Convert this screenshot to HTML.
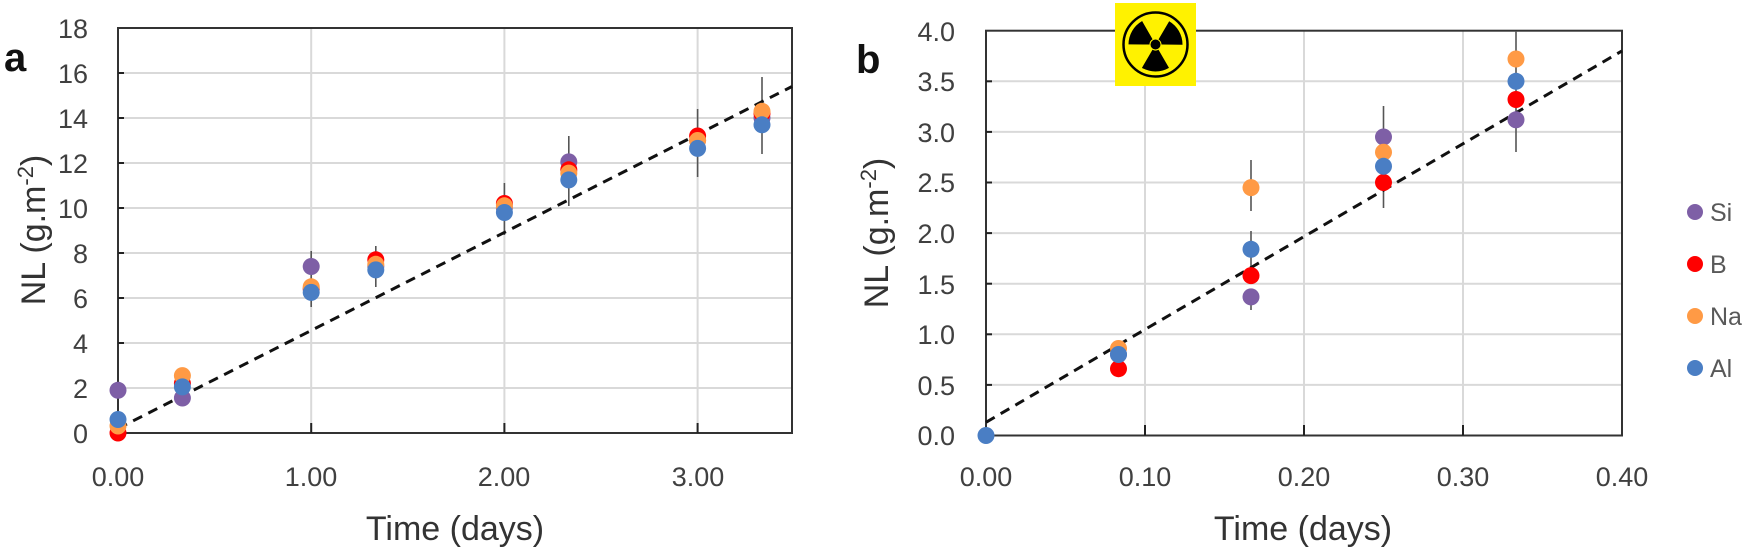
<!DOCTYPE html>
<html><head><meta charset="utf-8"><style>
html,body{margin:0;padding:0;background:#fff}
svg{display:block}
text{font-family:"Liberation Sans",sans-serif}
.t{font-size:27px;fill:#404040}
.ax{font-size:34px;fill:#333}
</style></head><body>
<svg width="1750" height="556" viewBox="0 0 1750 556" xmlns="http://www.w3.org/2000/svg">
<rect width="1750" height="556" fill="#fff"/>
<!-- Panel a grid -->
<g stroke="#d9d9d9" stroke-width="2">
<line x1="311.2" y1="28" x2="311.2" y2="433"/><line x1="504.4" y1="28" x2="504.4" y2="433"/><line x1="697.6" y1="28" x2="697.6" y2="433"/>
<line x1="118" y1="388" x2="792" y2="388"/><line x1="118" y1="343" x2="792" y2="343"/><line x1="118" y1="298" x2="792" y2="298"/><line x1="118" y1="253" x2="792" y2="253"/><line x1="118" y1="208" x2="792" y2="208"/><line x1="118" y1="163" x2="792" y2="163"/><line x1="118" y1="118" x2="792" y2="118"/><line x1="118" y1="73" x2="792" y2="73"/>
</g>
<rect x="118" y="28" width="674" height="405" fill="none" stroke="#333" stroke-width="2"/>
<g stroke="#222" stroke-width="2">
<line x1="118" y1="388" x2="124" y2="388"/><line x1="118" y1="343" x2="124" y2="343"/><line x1="118" y1="298" x2="124" y2="298"/><line x1="118" y1="253" x2="124" y2="253"/><line x1="118" y1="208" x2="124" y2="208"/><line x1="118" y1="163" x2="124" y2="163"/><line x1="118" y1="118" x2="124" y2="118"/><line x1="118" y1="73" x2="124" y2="73"/>
<line x1="311.2" y1="433" x2="311.2" y2="423"/><line x1="504.4" y1="433" x2="504.4" y2="423"/><line x1="697.6" y1="433" x2="697.6" y2="423"/>
</g>
<g class="t" text-anchor="end">
<text x="88" y="443">0</text><text x="88" y="398">2</text><text x="88" y="353">4</text><text x="88" y="308">6</text><text x="88" y="263">8</text><text x="88" y="218">10</text><text x="88" y="173">12</text><text x="88" y="128">14</text><text x="88" y="83">16</text><text x="88" y="38">18</text>
</g>
<g class="t" text-anchor="middle">
<text x="118" y="486">0.00</text><text x="311" y="486">1.00</text><text x="504" y="486">2.00</text><text x="698" y="486">3.00</text>
</g>
<text class="ax" x="455" y="540" text-anchor="middle">Time (days)</text>
<text class="ax" transform="translate(45,230) rotate(-90)" text-anchor="middle">NL (g.m<tspan dy="-12" font-size="22">-2</tspan><tspan dy="12">)</tspan></text>
<text x="4" y="71" font-size="40" font-weight="bold" fill="#111">a</text>
<!-- errors a -->
<g stroke="#555" stroke-width="1.6">
<line x1="311.2" y1="307" x2="311.2" y2="251"/><line x1="375.8" y1="287" x2="375.8" y2="246"/><line x1="504.4" y1="235" x2="504.4" y2="183"/><line x1="568.8" y1="206" x2="568.8" y2="136"/><line x1="697.6" y1="177" x2="697.6" y2="109"/><line x1="762" y1="154" x2="762" y2="77"/>
</g>
<line x1="118" y1="428.5" x2="792" y2="86.5" stroke="#111" stroke-width="3" stroke-dasharray="10 7"/>
<g>
<g fill="#7E5FA6"><circle cx="118" cy="390.3" r="8.5"/><circle cx="182.4" cy="398" r="8.5"/><circle cx="311.2" cy="266.5" r="8.5"/><circle cx="375.8" cy="266.5" r="8.5"/><circle cx="504.4" cy="208" r="8.5"/><circle cx="568.8" cy="161.9" r="8.5"/><circle cx="697.6" cy="140.5" r="8.5"/><circle cx="762" cy="118" r="8.5"/></g>
<g fill="#FF0000"><circle cx="118" cy="433" r="8.5"/><circle cx="182.4" cy="383.5" r="8.5"/><circle cx="311.2" cy="289" r="8.5"/><circle cx="375.8" cy="259.8" r="8.5"/><circle cx="504.4" cy="203.5" r="8.5"/><circle cx="568.8" cy="169.8" r="8.5"/><circle cx="697.6" cy="136" r="8.5"/><circle cx="762" cy="113.5" r="8.5"/></g>
<g fill="#FF9A45"><circle cx="118" cy="426" r="8.5"/><circle cx="182.4" cy="375.6" r="8.5"/><circle cx="311.2" cy="286.8" r="8.5"/><circle cx="375.8" cy="264.3" r="8.5"/><circle cx="504.4" cy="205.8" r="8.5"/><circle cx="568.8" cy="173.1" r="8.5"/><circle cx="697.6" cy="140.5" r="8.5"/><circle cx="762" cy="111.3" r="8.5"/></g>
<g fill="#4A7EC4"><circle cx="118" cy="419.5" r="8.5"/><circle cx="182.4" cy="386.9" r="8.5"/><circle cx="311.2" cy="292.4" r="8.5"/><circle cx="375.8" cy="269.9" r="8.5"/><circle cx="504.4" cy="212.5" r="8.5"/><circle cx="568.8" cy="179.9" r="8.5"/><circle cx="697.6" cy="148.4" r="8.5"/><circle cx="762" cy="124.8" r="8.5"/></g>
</g>

<!-- Panel b grid -->
<g stroke="#d9d9d9" stroke-width="2">
<line x1="1145" y1="30.7" x2="1145" y2="435.5"/><line x1="1304" y1="30.7" x2="1304" y2="435.5"/><line x1="1463" y1="30.7" x2="1463" y2="435.5"/>
<line x1="986" y1="384.9" x2="1622" y2="384.9"/><line x1="986" y1="334.3" x2="1622" y2="334.3"/><line x1="986" y1="283.7" x2="1622" y2="283.7"/><line x1="986" y1="233.1" x2="1622" y2="233.1"/><line x1="986" y1="182.5" x2="1622" y2="182.5"/><line x1="986" y1="131.9" x2="1622" y2="131.9"/><line x1="986" y1="81.3" x2="1622" y2="81.3"/>
</g>
<rect x="986" y="30.7" width="636" height="404.8" fill="none" stroke="#333" stroke-width="2"/>
<g stroke="#222" stroke-width="2">
<line x1="986" y1="384.9" x2="992" y2="384.9"/><line x1="986" y1="334.3" x2="992" y2="334.3"/><line x1="986" y1="283.7" x2="992" y2="283.7"/><line x1="986" y1="233.1" x2="992" y2="233.1"/><line x1="986" y1="182.5" x2="992" y2="182.5"/><line x1="986" y1="131.9" x2="992" y2="131.9"/><line x1="986" y1="81.3" x2="992" y2="81.3"/>
<line x1="1145" y1="435.5" x2="1145" y2="425"/><line x1="1304" y1="435.5" x2="1304" y2="425"/><line x1="1463" y1="435.5" x2="1463" y2="425"/>
</g>
<g class="t" text-anchor="end">
<text x="955" y="445">0.0</text><text x="955" y="395">0.5</text><text x="955" y="344">1.0</text><text x="955" y="294">1.5</text><text x="955" y="243">2.0</text><text x="955" y="192">2.5</text><text x="955" y="142">3.0</text><text x="955" y="91">3.5</text><text x="955" y="41">4.0</text>
</g>
<g class="t" text-anchor="middle">
<text x="986" y="486">0.00</text><text x="1145" y="486">0.10</text><text x="1304" y="486">0.20</text><text x="1463" y="486">0.30</text><text x="1622" y="486">0.40</text>
</g>
<text class="ax" x="1303" y="540" text-anchor="middle">Time (days)</text>
<text class="ax" transform="translate(888,233) rotate(-90)" text-anchor="middle">NL (g.m<tspan dy="-12" font-size="22">-2</tspan><tspan dy="12">)</tspan></text>
<text x="856" y="73" font-size="40" font-weight="bold" fill="#111">b</text>
<!-- radiation -->
<rect x="1115" y="3" width="81" height="83" fill="#FFF200"/>
<circle cx="1155.5" cy="44.5" r="32" fill="none" stroke="#000" stroke-width="2.5"/>
<circle cx="1155.5" cy="44.5" r="16.5" fill="none" stroke="#000" stroke-width="21" stroke-dasharray="17.28 17.28" transform="rotate(60 1155.5 44.5)"/>
<circle cx="1155.5" cy="44.5" r="5" fill="#000"/>
<!-- errors b -->
<g stroke="#555" stroke-width="1.6">
<line x1="1251" y1="211" x2="1251" y2="160"/><line x1="1251" y1="274" x2="1251" y2="231"/><line x1="1251" y1="310" x2="1251" y2="290"/>
<line x1="1383.5" y1="208" x2="1383.5" y2="106"/><line x1="1516" y1="152" x2="1516" y2="31"/>
</g>
<line x1="986" y1="422.3" x2="1622" y2="50.9" stroke="#111" stroke-width="3" stroke-dasharray="10 7"/>
<g>
<g fill="#7E5FA6"><circle cx="1118.5" cy="354.5" r="8.5"/><circle cx="1251" cy="296.9" r="8.5"/><circle cx="1383.5" cy="137" r="8.5"/><circle cx="1516" cy="119.8" r="8.5"/></g>
<g fill="#FF0000"><circle cx="1118.5" cy="368.7" r="8.5"/><circle cx="1251" cy="275.6" r="8.5"/><circle cx="1383.5" cy="182.5" r="8.5"/><circle cx="1516" cy="99.5" r="8.5"/></g>
<g fill="#FF9A45"><circle cx="1118.5" cy="348.5" r="8.5"/><circle cx="1251" cy="187.6" r="8.5"/><circle cx="1383.5" cy="152.2" r="8.5"/><circle cx="1516" cy="59" r="8.5"/></g>
<g fill="#4A7EC4"><circle cx="986" cy="435.5" r="8.5"/><circle cx="1118.5" cy="354.5" r="8.5"/><circle cx="1251" cy="249.3" r="8.5"/><circle cx="1383.5" cy="166.3" r="8.5"/><circle cx="1516" cy="81.3" r="8.5"/></g>
</g>
<!-- legend -->
<circle cx="1695" cy="212" r="8" fill="#7E5FA6"/><text x="1710" y="221" font-size="25" fill="#595959">Si</text>
<circle cx="1695" cy="264" r="8" fill="#FF0000"/><text x="1710" y="273" font-size="25" fill="#595959">B</text>
<circle cx="1695" cy="316" r="8" fill="#FF9A45"/><text x="1710" y="325" font-size="25" fill="#595959">Na</text>
<circle cx="1695" cy="368" r="8" fill="#4A7EC4"/><text x="1710" y="377" font-size="25" fill="#595959">Al</text>
</svg>
</body></html>
